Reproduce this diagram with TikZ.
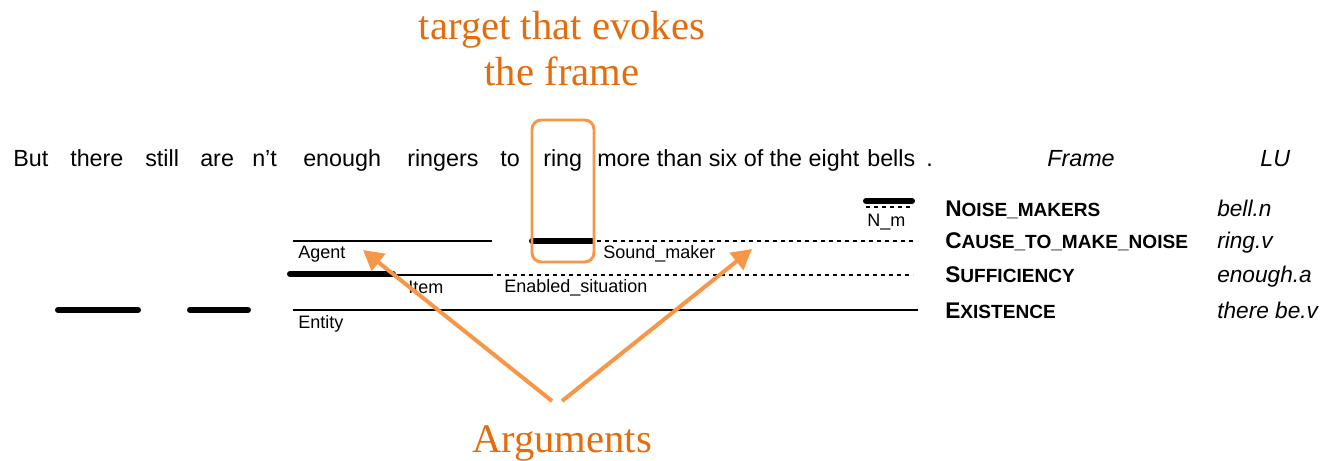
\documentclass[tikz,border=0pt]{standalone}
\usepackage{fontspec}
\setmainfont{Liberation Sans}
\newfontfamily\calloutfont{Liberation Serif}
\usetikzlibrary{arrows.meta}

\definecolor{tgtorange}{RGB}{228,108,10}
\definecolor{argorange}{RGB}{247,150,70}

\newcommand\framesc[2]{\textbf{#1{\fontsize{14.3}{16}\selectfont #2}}}

\tikzset{
  word/.style={anchor=base west, inner sep=0pt, font=\fontsize{17.5}{19}\selectfont},
  role/.style={anchor=base west, inner sep=0pt, font=\fontsize{13.5}{15}\selectfont},
  frm/.style={anchor=base west, inner sep=0pt, font=\fontsize{17}{19}\selectfont},
  lu/.style={anchor=base west, inner sep=0pt, font=\fontsize{17}{19}\selectfont\itshape},
  bar/.style={line width=4.5pt, line cap=round},
  solidrule/.style={line width=1.1pt},
  dotrule/.style={line width=1.1pt, dash pattern=on 3pt off 3pt},
  callout/.style={inner sep=0pt, align=center, text=tgtorange,
    font=\calloutfont\fontsize{30.5}{34.5}\selectfont},
  pointer/.style={draw=argorange, line width=3pt,
    -{Triangle[length=15pt,width=16pt]}},
}

\begin{document}
\begin{tikzpicture}[x=0.75pt, y=-0.75pt]
    \useasboundingbox (0,0) rectangle (1330,460);

    % sentence
    \foreach \x/\w in {13/But, 70/there, 145/still, 200/are, 252/n't,
        303/enough, 407/ringers, 500/to, 543/ring,
        597/more than six of the eight, 867/bells, 926/.}
      \node[word] (w\x) at (\x,166) {\w};
    \node[word, font=\fontsize{17.5}{19}\selectfont\itshape] (hframe) at (1047,166) {Frame};
    \node[word, font=\fontsize{17.5}{19}\selectfont\itshape] (hlu) at (1260,166) {LU};

    % frame annotation rows
    \draw[bar] (866,201) -- (912,201);
    \draw[dotrule] (866,207) -- (912,207);
    \node[role] (nm) at (867,226) {N\_m};

    \draw[solidrule] (293,241) -- (492,241);
    \draw[bar] (532,241) -- (592,241);
    \draw[dotrule] (597,241) -- (913,241);
    \node[role] (agent) at (298,258) {Agent};
    \node[role] (soundmaker) at (603,258) {Sound\_maker};

    \draw[bar] (290,274) -- (393,274);
    \draw[solidrule] (393,275) -- (493,275);
    \draw[dotrule] (497,275) -- (913,275);
    \node[role] (item) at (408,293) {Item};
    \node[role] (enabled) at (504,292) {Enabled\_situation};

    \draw[bar] (58,310) -- (138,310);
    \draw[bar] (190,310) -- (248,310);
    \draw[solidrule] (293,310) -- (918,310);
    \node[role] (entity) at (298,328) {Entity};

    % frames and LUs
    \node[frm] (f1) at (945,216) {\framesc{N}{OISE\_MAKERS}};
    \node[frm] (f2) at (945,248) {\framesc{C}{AUSE\_TO\_MAKE\_NOISE}};
    \node[frm] (f3) at (945,282) {\framesc{S}{UFFICIENCY}};
    \node[frm] (f4) at (945,318) {\framesc{E}{XISTENCE}};
    \node[lu] (l1) at (1217,216) {bell.n};
    \node[lu] (l2) at (1217,248) {ring.v};
    \node[lu] (l3) at (1217,282) {enough.a};
    \node[lu] (l4) at (1217,318) {there be.v};

    % callouts
    \draw[argorange, line width=2.2pt, rounded corners=7pt] (532,120) rectangle (594,262);
    \node[callout, anchor=base] (target) at (562,85) {target that evokes\\the frame};
    \node[callout, anchor=base] (args) at (562,452) {Arguments};
    \coordinate (argL) at (552,401);
    \coordinate (argR) at (562,401);
    \coordinate (tipA) at (363,250);
    \coordinate (tipS) at (752,249);
    \draw[pointer] (argL) -- (tipA);
    \draw[pointer] (argR) -- (tipS);
\end{tikzpicture}
\end{document}
